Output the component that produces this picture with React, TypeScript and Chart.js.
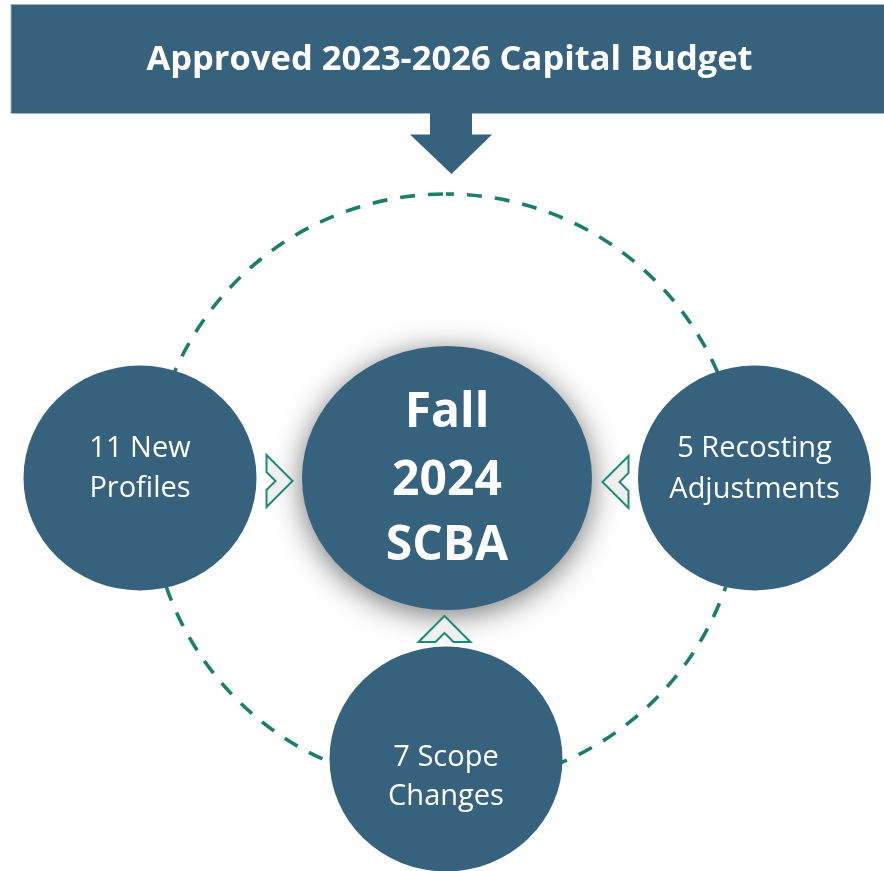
import React, { useEffect, useRef } from "react";
import { Chart, registerables } from "chart.js";

Chart.register(...registerables);

// ---- content ----
const TITLE = "Approved 2023-2026 Capital Budget";
const CENTER_LINES = ["Fall", "2024", "SCBA"];
const INPUT_COUNTS = [11, 5, 7];
const INPUT_FIRST = ["New", "Recosting", "Scope"];
const INPUT_SECOND = ["Profiles", "Adjustments", "Changes"];

// ---- layout (diagram coordinates, same units as the hidden linear scales) ----
const W = 884;
const H = 871;
const NODE_X = [447, 140, 754.5, 446]; // center, left, right, bottom
const NODE_Y = [478, 478, 478, 759];
const NODE_RX = [145, 116.5, 116.5, 116.5];
const NODE_RY = [132, 112.5, 112.5, 112.5];
const TEXT_OFFSETS = [
  [-51, 17, 82],
  [-21, 19],
  [-21, 19.5],
  [7, 46],
];
const RING = { x: 446, y: 490, r: 296 };
const CHEVRONS = [
  { x: 279.5, y: 481, angle: 0 },
  { x: 615.5, y: 482, angle: Math.PI },
  { x: 444.5, y: 629, angle: -Math.PI / 2 },
];
const HEADER = { x0: 11, x1: 884, y0: 4.5, y1: 113.5, textY: 70 };
const ARROW = { stemX0: 430, stemX1: 472, stemY1: 134.5, triX0: 410, triX1: 492, tipY: 174 };

const NAVY = "#36627e";
const TEAL = "#1b7d6c";
const FONT = '"Open Sans", "Noto Sans", sans-serif';

const diagramPlugin = {
  id: "diagram",
  afterDatasetsDraw(chart: any) {
    const ctx = chart.ctx as CanvasRenderingContext2D;
    const xs = chart.scales.x;
    const ys = chart.scales.y;
    const px = (v: number) => xs.getPixelForValue(v);
    const py = (v: number) => ys.getPixelForValue(v);
    const sx = (d: number) => Math.abs(xs.getPixelForValue(d) - xs.getPixelForValue(0));
    const sy = (d: number) => Math.abs(ys.getPixelForValue(d) - ys.getPixelForValue(0));
    const dy = (d: number) => ys.getPixelForValue(d) - ys.getPixelForValue(0);
    const meta = chart.getDatasetMeta(0);
    const pts = meta.data.map((e: any) => ({ x: e.x, y: e.y }));

    ctx.save();

    // dashed ring
    ctx.beginPath();
    ctx.strokeStyle = TEAL;
    ctx.lineWidth = 3.6;
    ctx.setLineDash([15, 13]);
    ctx.lineDashOffset = 7;
    ctx.ellipse(px(RING.x), py(RING.y), sx(RING.r), sy(RING.r), 0, -Math.PI / 2, Math.PI * 1.5);
    ctx.stroke();
    ctx.setLineDash([]);

    // satellite nodes
    for (let i = 1; i < pts.length; i++) {
      ctx.beginPath();
      ctx.fillStyle = NAVY;
      ctx.ellipse(pts[i].x, pts[i].y, sx(NODE_RX[i]), sy(NODE_RY[i]), 0, 0, Math.PI * 2);
      ctx.fill();
    }

    // center node with glow shadow
    ctx.save();
    ctx.shadowColor = "rgba(0,0,0,0.55)";
    ctx.shadowBlur = 30;
    ctx.shadowOffsetX = 0;
    ctx.shadowOffsetY = 5;
    ctx.beginPath();
    ctx.fillStyle = NAVY;
    ctx.ellipse(pts[0].x, pts[0].y, sx(NODE_RX[0]), sy(NODE_RY[0]), 0, 0, Math.PI * 2);
    ctx.fill();
    ctx.restore();

    // chevrons
    const chev = [
      [-13, -26],
      [13, 0],
      [-13, 26],
      [-13, 9],
      [-4, 0],
      [-13, -9],
    ];
    for (const c of CHEVRONS) {
      ctx.save();
      ctx.translate(px(c.x), py(c.y));
      ctx.rotate(c.angle);
      ctx.beginPath();
      chev.forEach(([a, b], k) => (k ? ctx.lineTo(a, b) : ctx.moveTo(a, b)));
      ctx.closePath();
      ctx.fillStyle = "#efefef";
      ctx.fill();
      ctx.strokeStyle = "#1f8a72";
      ctx.lineWidth = 2;
      ctx.lineJoin = "miter";
      ctx.stroke();
      ctx.restore();
    }

    // header band
    ctx.fillStyle = NAVY;
    ctx.fillRect(px(HEADER.x0), py(HEADER.y0), px(HEADER.x1) - px(HEADER.x0), py(HEADER.y1) - py(HEADER.y0));
    ctx.strokeStyle = "rgba(160,182,198,0.9)";
    ctx.lineWidth = 1;
    ctx.strokeRect(px(HEADER.x0), py(HEADER.y0), px(HEADER.x1) - px(HEADER.x0) + 2, py(HEADER.y1) - py(HEADER.y0));

    // down arrow
    ctx.beginPath();
    ctx.fillStyle = NAVY;
    ctx.moveTo(px(ARROW.stemX0), py(HEADER.y1) - 1);
    ctx.lineTo(px(ARROW.stemX1), py(HEADER.y1) - 1);
    ctx.lineTo(px(ARROW.stemX1), py(ARROW.stemY1));
    ctx.lineTo(px(ARROW.triX1), py(ARROW.stemY1));
    ctx.lineTo(px((ARROW.triX0 + ARROW.triX1) / 2 + 0.5), py(ARROW.tipY));
    ctx.lineTo(px(ARROW.triX0), py(ARROW.stemY1));
    ctx.lineTo(px(ARROW.stemX0), py(ARROW.stemY1));
    ctx.closePath();
    ctx.fill();

    // texts
    ctx.fillStyle = "#ffffff";
    ctx.textAlign = "center";
    ctx.textBaseline = "alphabetic";
    ctx.font = `bold 34.5px ${FONT}`;
    ctx.fillText(TITLE, px(449.5), py(HEADER.textY));

    ctx.font = `bold 48px ${FONT}`;
    CENTER_LINES.forEach((t, k) => ctx.fillText(t, pts[0].x, pts[0].y + dy(TEXT_OFFSETS[0][k])));

    ctx.font = `29px ${FONT}`;
    for (let i = 0; i < INPUT_COUNTS.length; i++) {
      const p = pts[i + 1];
      const off = TEXT_OFFSETS[i + 1];
      ctx.fillText(`${INPUT_COUNTS[i]} ${INPUT_FIRST[i]}`, p.x, p.y + dy(off[0]));
      ctx.fillText(INPUT_SECOND[i], p.x, p.y + dy(off[1]));
    }

    ctx.restore();
  },
};

export default function App() {
  const ref = useRef<HTMLCanvasElement | null>(null);
  useEffect(() => {
    document.body.style.margin = "0";
    const canvas = ref.current;
    if (!canvas) return;
    const chart = new Chart(canvas, {
      type: "scatter",
      data: {
        datasets: [
          {
            label: "nodes",
            data: NODE_X.map((x, i) => ({ x, y: NODE_Y[i] })),
            pointRadius: 0,
            pointHoverRadius: 0,
          },
        ],
      },
      options: {
        animation: false,
        responsive: false,
        devicePixelRatio: 1,
        layout: { padding: 0 },
        events: [],
        plugins: { legend: { display: false }, tooltip: { enabled: false }, title: { display: false } },
        scales: {
          x: { type: "linear", min: 0, max: W, display: false },
          y: { type: "linear", min: 0, max: H, reverse: true, display: false },
        },
      },
      plugins: [diagramPlugin],
    });
    if ((document as any).fonts && (document as any).fonts.load) {
      Promise.all([
        (document as any).fonts.load(`bold 32px "Open Sans"`),
        (document as any).fonts.load(`29px "Open Sans"`),
      ]).then(() => chart.update()).catch(() => {});
    }
    return () => chart.destroy();
  }, []);
  return (
    <div style={{ width: W, height: H, background: "#ffffff" }}>
      <canvas ref={ref} width={W} height={H} style={{ display: "block", width: W, height: H }} />
    </div>
  );
}
